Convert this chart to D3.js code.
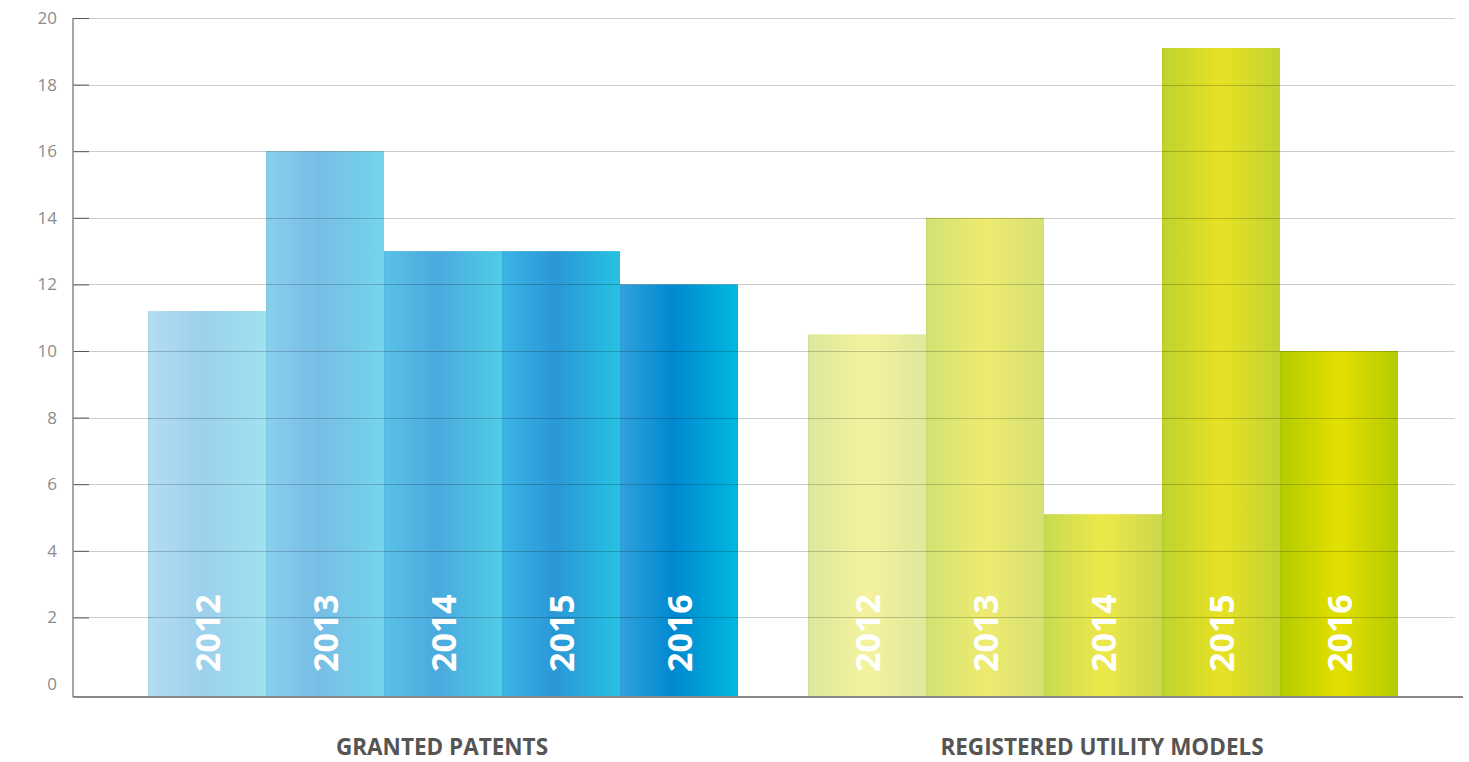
<!DOCTYPE html>
<html>
<head>
<meta charset="utf-8">
<script src="https://cdn.jsdelivr.net/npm/d3@7"></script>
<style>
  html, body { margin: 0; padding: 0; background: #fff; }
  svg { display: block; }
</style>
</head>
<body>
<svg id="chart" width="1469" height="762"></svg>
<script>
// ---- data ----
const groups = ["GRANTED PATENTS", "REGISTERED UTILITY MODELS"];
const years = ["2012", "2013", "2014", "2015", "2016"];
const grantedPatents = [11.2, 16, 13, 13, 12];
const utilityModels = [10.5, 14, 5.1, 19.1, 10];
const yTicks = [0, 2, 4, 6, 8, 10, 12, 14, 16, 18, 20];

// gradient colours per bar: [left, middle, right]
const patentColors = [
  ["#b2ddf1", "#9dd0ec", "#9fe2ef"],
  ["#88cfec", "#77bde6", "#74d6ea"],
  ["#5ac1e8", "#4ba9de", "#4fcde6"],
  ["#3cb3e4", "#2a97d6", "#27c1e2"],
  ["#30a1dc", "#0088d0", "#00b9df"]
];
const utilityColors = [
  ["#dde89c", "#f4f29d", "#dfe89c"],
  ["#d2e274", "#eeeb6f", "#d6e074"],
  ["#c8dc50", "#ede84a", "#cad84c"],
  ["#bed42c", "#e7e124", "#c2d430"],
  ["#b4cc00", "#e3e000", "#b4cb00"]
];

const series = [
  { group: groups[0], values: grantedPatents, colors: patentColors },
  { group: groups[1], values: utilityModels, colors: utilityColors }
];

// ---- layout ----
const svg = d3.select("#chart");
const axisX = 73, baseY = 696, rightX = 1455;

const y = d3.scaleLinear().domain([0, 20]).range([684, 18]);
const gx = d3.scaleBand().domain(groups).range([113, 1433]).paddingInner(0.106).paddingOuter(0.053);
const bx = d3.scaleBand().domain(years).range([0, gx.bandwidth()]).padding(0);

// gradients
const defs = svg.append("defs");
series.forEach((s, si) => {
  s.colors.forEach((c, i) => {
    const g = defs.append("linearGradient").attr("id", `g${si}_${i}`)
      .attr("x1", "0%").attr("x2", "100%").attr("y1", "0%").attr("y2", "0%");
    g.append("stop").attr("offset", "0%").attr("stop-color", d3.color(c[0]).darker(0.15));
    g.append("stop").attr("offset", "1.5%").attr("stop-color", c[0]);
    g.append("stop").attr("offset", si === 0 ? "45%" : "50%").attr("stop-color", c[1]);
    g.append("stop").attr("offset", "100%").attr("stop-color", c[2]);
  });
});

// bars
series.forEach((s, si) => {
  const gg = svg.append("g").attr("transform", `translate(${gx(s.group)},0)`);
  gg.selectAll("rect").data(s.values).join("rect")
    .attr("x", (d, i) => bx(years[i]))
    .attr("y", d => y(d))
    .attr("width", bx.bandwidth())
    .attr("height", d => baseY - y(d))
    .attr("fill", (d, i) => `url(#g${si}_${i})`);
  gg.selectAll("text").data(years).join("text")
    .attr("transform", d => `translate(${bx(d) + bx.bandwidth() / 2 + 1},672) rotate(-90)`)
    .attr("dy", "0.36em")
    .attr("text-anchor", "start")
    .attr("fill", "#ffffff")
    .attr("font-family", "'Open Sans', sans-serif")
    .attr("font-weight", 700)
    .attr("font-size", 34)
    .text(d => d);
});

// grid lines (on top of bars, translucent)
svg.append("g").selectAll("line").data(yTicks.filter(t => t > 0)).join("line")
  .attr("x1", axisX).attr("x2", rightX)
  .attr("y1", d => Math.round(y(d)) + 0.5).attr("y2", d => Math.round(y(d)) + 0.5)
  .attr("stroke", "rgba(0,0,0,0.2)").attr("stroke-width", 1);

// y axis (tick marks for non-zero ticks)
const yAxis = d3.axisRight(y).tickValues(yTicks.filter(t => t > 0)).tickSize(16).tickFormat("");
const ya = svg.append("g").attr("transform", `translate(${axisX},0)`).call(yAxis);
ya.select(".domain").remove();
ya.selectAll(".tick line").attr("stroke", "#555").attr("stroke-width", 1);
svg.append("line").attr("x1", axisX).attr("x2", axisX).attr("y1", y(20)).attr("y2", baseY + 1)
  .attr("stroke", "#888").attr("stroke-width", 1.5);

svg.append("g").selectAll("text").data(yTicks).join("text")
  .attr("x", 57).attr("y", d => y(d)).attr("dy", "0.35em")
  .attr("text-anchor", "end")
  .attr("fill", "#8c8c8c")
  .attr("font-family", "'Open Sans', sans-serif")
  .attr("font-size", 17)
  .text(d => d);

// x axis baseline
svg.append("line").attr("x1", axisX).attr("x2", 1463).attr("y1", baseY + 1).attr("y2", baseY + 1)
  .attr("stroke", "#888").attr("stroke-width", 2);

// group labels
svg.append("g").selectAll("text").data(groups).join("text")
  .attr("x", d => gx(d) + gx.bandwidth() / 2 - 1)
  .attr("y", 755)
  .attr("text-anchor", "middle")
  .attr("fill", "#555")
  .attr("font-family", "'Open Sans', sans-serif")
  .attr("font-weight", 700)
  .attr("font-size", 22.5)
  .text(d => d);
</script>
</body>
</html>
